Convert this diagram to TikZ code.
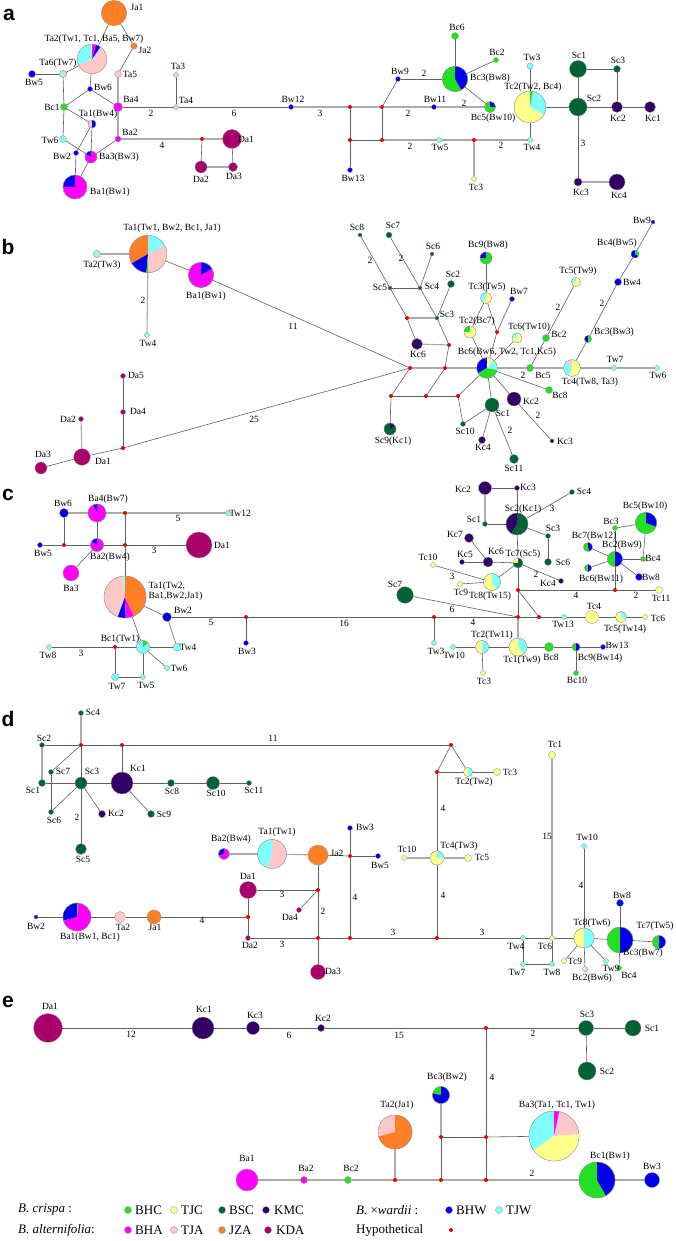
\documentclass[tikz,border=0pt]{standalone}
\usepackage{fontspec}
\setmainfont{Liberation Serif}
\newfontfamily\lsans{Liberation Sans}
\definecolor{BHC}{RGB}{34,225,34}
\definecolor{TJC}{RGB}{255,255,140}
\definecolor{BSC}{RGB}{0,100,50}
\definecolor{KMC}{RGB}{51,0,102}
\definecolor{BHA}{RGB}{255,0,255}
\definecolor{TJA}{RGB}{255,200,200}
\definecolor{JZA}{RGB}{255,127,39}
\definecolor{KDA}{RGB}{170,0,110}
\definecolor{BHW}{RGB}{0,0,235}
\definecolor{TJW}{RGB}{128,255,255}
\definecolor{HYP}{RGB}{230,0,0}
\pgfdeclarelayer{edges}
\pgfsetlayers{edges,main}
\newcounter{lbc}
\newcommand\lb[3]{\stepcounter{lbc}\node[lbl] (lb\number\value{lbc}) at (#1,#2) {#3};}
\newcommand\hn[5]{\node[hap,fill=#5,minimum size=2*#4pt] (#1) at (#2,#3) {};}
\newcommand\hy[3]{\node[hyp] (#1) at (#2,#3) {};}
\newcommand\pn[5]{%
  \node[hap,minimum size=2*#4pt] (#1) at (#2,#3) {};
  \gdef\pang{90}%
  \foreach \pcol/\pdeg in {#5}{%
    \pgfmathsetmacro\pend{\pang+\pdeg}%
    \fill[\pcol] (#2,#3) -- ++(\pang:#4pt) arc[start angle=\pang,end angle=\pend,radius=#4pt] -- cycle;
    \xdef\pang{\pend}%
  }%
  \draw[draw=black!45,line width=0.3pt] (#2,#3) circle[radius=#4pt];
}
\begin{document}
\begin{tikzpicture}[x=1pt,y=-1pt,
 hap/.style={circle,draw=black!45,line width=0.3pt,inner sep=0pt,outer sep=0pt},
 hyp/.style={circle,fill=HYP,inner sep=0pt,outer sep=0pt,minimum size=4pt},
 lbl/.style={font=\fontsize{9.5}{10.5}\selectfont,inner sep=0.5pt,align=center},
 leg/.style={font=\fontsize{13}{14}\selectfont,inner sep=0pt,anchor=west},
 plet/.style={font=\lsans\bfseries\fontsize{21}{21}\selectfont,inner sep=0pt},
 ln/.style={draw=black!62,line width=0.6pt},
 lg/.style={draw=black!33,line width=1.1pt}]
\useasboundingbox (0,0) rectangle (675,1241);
\begin{pgfonlayer}{edges}
\fill[white] (0,0) rectangle (675,1241);
\end{pgfonlayer}
% panel letters
\node[plet] (pa) at (9,15) {a};
\node[plet] (pb) at (8,247) {b};
\node[plet] (pc) at (8,495) {c};
\node[plet] (pd) at (8,719) {d};
\node[plet] (pe) at (8,1002) {e};
%================ panel a
\hn{aJa1}{114}{13}{12.7}{JZA}
\pn{aTa2}{92}{59}{14.7}{TJC/5,TJW/110,TJA/210,BHW/20,BHA/15}
\hn{aJa2}{134}{46}{3.2}{JZA}
\pn{aTa6}{63}{74}{3.5}{TJW/180,TJA/180}
\hn{aBw5}{32}{74}{3.5}{BHW}
\hn{aTa5}{118}{74}{3.5}{TJA}
\hn{aBw6}{90}{89}{2.5}{BHW}
\hn{aBa4}{118}{107}{4.5}{BHA}
\hn{aBc1}{64}{107}{3.5}{BHC}
\pn{aTa1}{92}{124}{4}{TJA/180,BHW/180}
\hn{aTw6}{63}{139}{3.5}{TJW}
\hn{aBa2}{118}{139}{3}{BHA}
\hn{aBw2}{76}{153}{2.5}{BHW}
\pn{aBa3}{91}{157}{6}{BHW/60,BHA/300}
\pn{aBa1}{75}{187}{12}{BHW/90,BHA/270}
\hn{aTa3}{176}{75}{2.5}{TJA}
\hn{aTa4}{176}{107}{2.5}{TJA}
\hn{aBw12}{291}{107}{2.5}{BHW}
\hy{ah0}{202}{139}
\hn{aDa1}{232}{139}{9.5}{KDA}
\hn{aDa2}{201}{167}{6}{KDA}
\hn{aDa3}{233}{167}{4.5}{KDA}
\hy{ah1}{350}{107}
\hy{ah2}{382}{107}
\hy{ah3}{350}{140}
\hy{ah4}{382}{140}
\hn{aBw13}{350}{170}{2.5}{BHW}
\hn{aBw9}{398}{79}{2.5}{BHW}
\hn{aBw11}{434}{107}{2.5}{BHW}
\pn{aBc3}{455}{79}{12.7}{BHC/210,BHW/150}
\hn{aBc6}{455}{36}{3.5}{BHC}
\hn{aBc2}{496}{60}{2.5}{BHC}
\pn{aBc5}{490}{107}{5.5}{BHC/270,BHW/90}
\pn{aTc2}{530}{107}{15.8}{TJC/240,TJW/110,BHC/10}
\hn{aTw3}{530}{66}{3}{TJW}
\hn{aTw4}{530}{140}{2.5}{TJW}
\hn{aTw5}{439}{140}{2.5}{TJW}
\hy{ah5}{474}{140}
\hn{aTc3}{474}{179}{2.5}{TJC}
\hn{aSc1}{578}{69}{8.5}{BSC}
\hn{aSc2}{578}{107}{9}{BSC}
\hn{aSc3}{617}{69}{3.5}{BSC}
\hn{aKc2}{617}{107}{5.5}{KMC}
\hn{aKc1}{650}{107}{5.5}{KMC}
\hn{aKc3}{578}{182}{4}{KMC}
\hn{aKc4}{617}{182}{8}{KMC}
\lb{137}{7}{Ja1}
\lb{94}{39}{Ta2(Tw1, Tc1, Ba5, Bw7)}
\lb{145}{50}{Ja2}
\lb{58}{63}{Ta6(Tw7)}
\lb{34}{82}{Bw5}
\lb{130}{74}{Ta5}
\lb{103}{87}{Bw6}
\lb{131}{99}{Ba4}
\lb{52}{107}{Bc1}
\lb{98}{114}{Ta1(Bw4)}
\lb{50}{140}{Tw6}
\lb{130}{132}{Ba2}
\lb{62}{156}{Bw2}
\lb{119}{157}{Ba3(Bw3)}
\lb{110}{192}{Ba1(Bw1)}
\lb{178}{66}{Ta3}
\lb{186}{100}{Ta4}
\lb{293}{99}{Bw12}
\lb{246}{139}{Da1}
\lb{201}{179}{Da2}
\lb{234}{176}{Da3}
\lb{151}{113}{2}
\lb{234}{113}{6}
\lb{320}{113}{3}
\lb{162}{145}{4}
\lb{353}{178}{Bw13}
\lb{400}{71}{Bw9}
\lb{435}{99}{Bw11}
\lb{490}{78}{Bc3(Bw8)}
\lb{457}{27}{Bc6}
\lb{497}{52}{Bc2}
\lb{493}{118}{Bc5(Bw10)}
\lb{533}{87}{Tc2(Tw2, Bc4)}
\lb{532}{57}{Tw3}
\lb{532}{147}{Tw4}
\lb{440}{147}{Tw5}
\lb{476}{187}{Tc3}
\lb{579}{55}{Sc1}
\lb{594}{98}{Sc2}
\lb{618}{60}{Sc3}
\lb{618}{118}{Kc2}
\lb{653}{118}{Kc1}
\lb{581}{192}{Kc3}
\lb{619}{195}{Kc4}
\lb{424}{73}{2}
\lb{408}{113}{2}
\lb{464}{103}{2}
\lb{410}{146}{2}
\lb{501}{145}{2}
\lb{583}{143}{3}
%================ panel b
\pn{bTa1}{148}{254}{18.7}{JZA/120,BHW/55,BHC/7,TJA/118,TJW/60}
\pn{bTa2}{97}{254}{3.5}{TJW/270,TJA/90}
\hn{bTw4}{147}{335}{2.5}{TJW}
\pn{bBa1}{201}{275}{12.7}{BHA/300,BHW/60}
\hn{bDa3}{41}{468}{6}{KDA}
\hn{bDa1}{82}{457}{8.3}{KDA}
\hn{bDa2}{81}{419}{2.5}{KDA}
\hy{bh0}{123}{448}
\hn{bDa4}{123}{412}{2.5}{KDA}
\hn{bDa5}{123}{376}{2.5}{KDA}
\hy{bhub}{410}{368}
\hy{bh1}{445}{368}
\hy{bh2}{407}{318}
\hy{bh3}{449}{345}
\hy{bh4}{391}{396}
\hy{bh5}{426}{396}
\hy{bh6}{458}{396}
\hy{bh7}{497}{332}
\pn{bBc6}{487}{368}{10.3}{KMC/10,BHW/110,BHC/140,TJW/65,TJC/35}
\pn{bTc2}{470}{332}{6}{BHC/90,TJC/270}
\pn{bTc3}{486}{298}{5.5}{TJW/150,TJC/210}
\pn{bBc9}{486}{258}{6}{BHW/90,BHC/270}
\hn{bBw7}{512}{299}{2.5}{BHW}
\pn{bTc6}{517}{338}{5}{TJW/90,TJC/270}
\hn{bBc2}{546}{338}{3.5}{BHC}
\pn{bTc5}{576}{282}{4.5}{TJW/100,TJC/260}
\hn{bBc5}{530}{368}{3.5}{BHC}
\pn{bTc4}{572}{368}{8.3}{TJA/40,TJW/120,TJC/200}
\hn{bTw7}{614}{368}{2.5}{TJW}
\hn{bTw6}{657}{368}{2.5}{TJW}
\pn{bBc3}{588}{339}{3.5}{BHW/180,BHC/180}
\hn{bBw4}{618}{282}{3.5}{BHW}
\pn{bBc4}{635}{254}{4}{BHW/240,BHC/120}
\hn{bBw9}{653}{222}{2}{BHW}
\hn{bBc8}{549}{390}{3.5}{BHC}
\hn{bKc2}{514}{399}{7}{KMC}
\hn{bKc3}{552}{441}{2}{KMC}
\hn{bSc1}{492}{405}{7}{BSC}
\hn{bSc10}{463}{424}{2.5}{BSC}
\hn{bKc4}{482}{440}{3.5}{KMC}
\hn{bSc11}{514}{459}{4.5}{BSC}
\pn{bSc9}{390}{429}{6}{BSC/300,KMC/60}
\hn{bKc6}{417}{344}{5.5}{KMC}
\hn{bSc3}{437}{318}{2}{BSC}
\hn{bSc2}{451}{284}{3.5}{BSC}
\hn{bSc4}{420}{288}{2}{BSC}
\hn{bSc5}{390}{288}{2}{BSC}
\hn{bSc6}{432}{254}{2}{BSC}
\hn{bSc8}{360}{235}{2}{BSC}
\hn{bSc7}{389}{235}{3}{BSC}
\lb{172}{228}{Ta1(Tw1, Bw2, Bc1, Ja1)}
\lb{102}{265}{Ta2(Tw3)}
\lb{148}{343}{Tw4}
\lb{143}{300}{2}
\lb{206}{296}{Ba1(Bw1)}
\lb{293}{326}{11}
\lb{254}{419}{25}
\lb{43}{454}{Da3}
\lb{103}{461}{Da1}
\lb{68}{419}{Da2}
\lb{138}{411}{Da4}
\lb{136}{375}{Da5}
\lb{507}{352}{Bc6(Bw6, Tw2, Tc1,Kc5)}
\lb{477}{321}{Tc2(Bc7)}
\lb{487}{287}{Tc3(Tw5)}
\lb{488}{245}{Bc9(Bw8)}
\lb{519}{291}{Bw7}
\lb{529}{327}{Tc6(Tw10)}
\lb{559}{334}{Bc2}
\lb{578}{271}{Tc5(Tw9)}
\lb{543}{375}{Bc5}
\lb{590}{382}{Tc4(Tw8, Ta3)}
\lb{615}{359}{Tw7}
\lb{658}{375}{Tw6}
\lb{614}{332}{Bc3(Bw3)}
\lb{632}{282}{Bw4}
\lb{617}{243}{Bc4(Bw5)}
\lb{642}{220}{Bw9}
\lb{560}{395}{Bc8}
\lb{531}{401}{Kc2}
\lb{565}{441}{Kc3}
\lb{503}{413}{Sc1}
\lb{465}{431}{Sc10}
\lb{483}{447}{Kc4}
\lb{514}{468}{Sc11}
\lb{393}{441}{Sc9(Kc1)}
\lb{418}{354}{Kc6}
\lb{447}{314}{Sc3}
\lb{453}{274}{Sc2}
\lb{432}{286}{Sc4}
\lb{380}{287}{Sc5}
\lb{433}{246}{Sc6}
\lb{357}{227}{Sc8}
\lb{393}{225}{Sc7}
\lb{558}{307}{2}
\lb{602}{303}{2}
\lb{523}{375}{2}
\lb{538}{415}{2}
\lb{510}{430}{2}
\lb{370}{260}{2}
\lb{401}{258}{2}
%================ panel c
\hn{cBw6}{64}{513}{4.5}{BHW}
\pn{cBa4}{97}{513}{9}{BHW/25,BHA/335}
\hy{ch1}{125}{513}
\hn{cTw12}{228}{513}{2.5}{TJW}
\hn{cBw5}{40}{545}{2.5}{BHW}
\hy{ch2}{64}{545}
\pn{cBa2}{97}{545}{6.5}{BHW/60,BHA/300}
\hy{ch3}{125}{545}
\hn{cDa1}{199}{545}{13}{KDA}
\hn{cBa3}{71}{573}{8}{BHA}
\pn{cTa1}{125}{597}{21}{TJW/8,TJA/152,BHW/22,BHA/23,JZA/155}
\hn{cBw2}{167}{617}{4.5}{BHW}
\hy{ch4}{246}{617}
\hn{cBw3}{246}{643}{2.5}{BHW}
\pn{cBc1}{143}{647}{6.5}{TJW/310,BHC/50}
\hn{cTw4}{177}{647}{4}{TJW}
\hn{cTw6}{167}{668}{2.5}{TJW}
\hy{ch5}{115}{647}
\hn{cTw8}{49}{647}{2.5}{TJW}
\hn{cTw7}{115}{677}{3.5}{TJW}
\hn{cTw5}{143}{677}{2.5}{TJW}
\hn{cKc2}{485}{488}{6.5}{KMC}
\hn{cKc3}{517}{488}{2.5}{KMC}
\hn{cSc4}{572}{492}{2.5}{BSC}
\hn{cSc1}{485}{524}{2.5}{BSC}
\pn{cSc2}{517}{524}{11}{KMC/150,BSC/210}
\hn{cSc3}{548}{536}{2.5}{BSC}
\hn{cSc6}{548}{562}{3.5}{BSC}
\hn{cKc7}{469}{538}{4.5}{KMC}
\hn{cKc5}{462}{562}{2.5}{KMC}
\hn{cKc6}{488}{562}{5}{KMC}
\pn{cTc7}{518}{563}{5}{TJC/90,BSC/270}
\hn{cKc4}{561}{581}{2.5}{KMC}
\hn{cTc10}{433}{565}{2.5}{TJC}
\hn{cTc9}{460}{584}{2.5}{TJC}
\pn{cTc8}{492}{582}{8.5}{TJC/210,TJW/150}
\hy{chA}{518}{590}
\hy{chB}{615}{590}
\hn{cTc11}{659}{590}{3.5}{TJC}
\hn{cSc7}{405}{595}{8.3}{BSC}
\hy{chub}{518}{617}
\hy{chC}{539}{617}
\hy{chD}{434}{617}
\hn{cTw3}{434}{643}{2.5}{TJW}
\hn{cTw13}{564}{617}{2.5}{TJW}
\hn{cTc4}{592}{617}{6.5}{TJC}
\pn{cTc5}{621}{617}{5.5}{TJC/240,TJW/120}
\hn{cTc6}{645}{617}{2.5}{TJC}
\pn{cTc2}{482}{647}{6.5}{TJC/180,TJW/180}
\hn{cTw10}{453}{647}{2.5}{TJW}
\hn{cTc3}{483}{673}{2.5}{TJC}
\pn{cTc1}{518}{647}{9}{TJC/220,TJW/140}
\hn{cBc8}{549}{647}{4.5}{BHC}
\pn{cBc9}{576}{647}{4}{BHC/180,BHW/180}
\hn{cBw13}{603}{647}{2.5}{BHW}
\hn{cBc10}{576}{673}{2.5}{BHC}
\hn{cBc3}{615}{528}{2.5}{BHC}
\pn{cBc5}{646}{523}{10.7}{BHC/250,BHW/110}
\pn{cBc7}{588}{547}{4.5}{BHC/200,BHW/160}
\pn{cBc2}{615}{559}{7.5}{BHC/180,BHW/180}
\hn{cBc4}{643}{559}{2.5}{BHC}
\pn{cBc6}{588}{568}{3.5}{BHC/180,BHW/180}
\hn{cBw8}{639}{577}{3.5}{BHW}
\lb{63}{503}{Bw6}
\lb{108}{499}{Ba4(Bw7)}
\lb{240}{513}{Tw12}
\lb{178}{518}{5}
\lb{43}{553}{Bw5}
\lb{110}{557}{Ba2(Bw4)}
\lb{222}{545}{Da1}
\lb{154}{550}{3}
\lb{71}{588}{Ba3}
\stepcounter{lbc}\node[lbl,anchor=west,align=left] (lb\number\value{lbc}) at (148,591) {Ta1(Tw2,\\Ba1,Bw2,Ja1)};
\lb{183}{610}{Bw2}
\lb{211}{622}{5}
\lb{247}{651}{Bw3}
\lb{120}{639}{Bc1(Tw1)}
\lb{188}{647}{Tw4}
\lb{179}{668}{Tw6}
\lb{48}{655}{Tw8}
\lb{81}{653}{3}
\lb{117}{686}{Tw7}
\lb{146}{685}{Tw5}
\lb{463}{489}{Kc2}
\lb{528}{487}{Kc3}
\lb{584}{491}{Sc4}
\lb{474}{519}{Sc1}
\lb{523}{509}{Sc2(Kc1)}
\lb{552}{508}{3}
\lb{553}{528}{Sc3}
\lb{563}{562}{Sc6}
\lb{455}{534}{Kc7}
\lb{465}{554}{Kc5}
\lb{496}{551}{Kc6}
\lb{523}{554}{Tc7(Sc5)}
\lb{548}{583}{Kc4}
\lb{536}{574}{2}
\lb{428}{557}{Tc10}
\lb{461}{592}{Tc9}
\lb{490}{596}{Tc8(Tw15)}
\lb{452}{576}{3}
\lb{661}{598}{Tc11}
\lb{576}{595}{4}
\lb{636}{595}{2}
\lb{395}{584}{Sc7}
\lb{452}{609}{6}
\lb{344}{623}{16}
\lb{473}{622}{4}
\lb{436}{651}{Tw3}
\lb{563}{624}{Tw13}
\lb{594}{606}{Tc4}
\lb{625}{629}{Tc5(Tw14)}
\lb{658}{618}{Tc6}
\lb{492}{635}{Tc2(Tw11)}
\lb{454}{655}{Tw10}
\lb{484}{681}{Tc3}
\lb{522}{660}{Tc1(Tw9)}
\lb{551}{657}{Bc8}
\lb{600}{658}{Bc9(Bw14)}
\lb{617}{645}{Bw13}
\lb{577}{680}{Bc10}
\lb{611}{521}{Bc3}
\lb{645}{506}{Bc5(Bw10)}
\lb{594}{536}{Bc7(Bw12)}
\lb{622}{545}{Bc2(Bw9)}
\lb{653}{558}{Bc4}
\lb{601}{579}{Bc6(Bw11)}
\lb{651}{577}{Bw8}
%================ panel d
\hn{dSc4}{81}{713}{2.5}{BSC}
\hn{dSc2}{42}{745}{2.5}{BSC}
\hy{dh1}{81}{745}
\hy{dh2}{122}{745}
\hy{dh3}{451}{745}
\hn{dSc7}{51}{772}{2.5}{BSC}
\hn{dSc3}{81}{783}{6}{BSC}
\hn{dSc1}{42}{783}{3.5}{BSC}
\hn{dKc1}{122}{783}{11}{KMC}
\hn{dSc8}{171}{783}{3.5}{BSC}
\hn{dSc10}{213}{783}{6.5}{BSC}
\hn{dSc11}{249}{783}{2.5}{BSC}
\hn{dSc6}{51}{812}{2.5}{BSC}
\hn{dKc2}{102}{814}{3.5}{KMC}
\hn{dSc9}{151}{814}{3.5}{BSC}
\hn{dSc5}{81}{849}{5.5}{BSC}
\hy{dh4}{437}{772}
\pn{dTc2}{468}{772}{4.5}{TJC/180,TJW/180}
\hn{dTc3}{497}{772}{3.5}{TJC}
\pn{dTc4}{437}{858}{7}{TJC/270,TJW/90}
\hn{dTc10}{404}{858}{2.5}{TJC}
\hn{dTc5}{468}{858}{3.5}{TJC}
\hy{dh5}{437}{938}
\hn{dBw3}{350}{828}{2.5}{BHW}
\hy{dh6}{350}{856}
\hn{dBw5}{378}{856}{2.5}{BHW}
\hn{dJa2}{318}{855}{10}{JZA}
\pn{dTa1}{272}{854}{14.5}{TJW/160,TJA/200}
\pn{dBa2}{224}{854}{5.5}{BHW/110,BHA/250}
\hy{dh8}{318}{890}
\hy{dh9}{318}{938}
\hn{dDa1}{248}{890}{8.5}{KDA}
\hn{dDa4}{299}{910}{2.5}{KDA}
\hy{dh10}{248}{917}
\hn{dJa1}{154}{917}{7}{JZA}
\hn{dTa2}{120}{917}{5.5}{TJA}
\pn{dBa1}{77}{917}{14}{BHW/105,BHA/250,BHC/5}
\hn{dBw2}{36}{917}{2}{BHW}
\hn{dDa2}{248}{938}{2.5}{KDA}
\hn{dDa3}{318}{972}{7.5}{KDA}
\hy{dh7}{350}{938}
\hn{dTw4}{523}{938}{2.5}{TJW}
\hn{dTc6}{552}{938}{2.5}{TJC}
\hn{dTc1}{552}{755}{3.5}{TJC}
\hn{dTw10}{584}{846}{2.5}{TJW}
\pn{dTc8}{584}{938}{10}{TJC/180,TJW/180}
\hn{dBw8}{620}{903}{3.5}{BHW}
\pn{dBc3}{620}{940}{13}{BHC/180,BHW/180}
\pn{dTc7}{659}{942}{6.5}{BHC/180,BHW/180}
\hn{dTw7}{523}{964}{2.5}{TJW}
\hn{dTw8}{552}{964}{2.5}{TJW}
\hn{dTc9}{564}{961}{2.5}{TJC}
\pn{dBc2}{585}{969}{2.5}{TJC/180,TJW/180}
\hn{dTw9}{606}{961}{2.5}{TJW}
\hn{dBc4}{619}{968}{2.5}{BHC}
\lb{93}{712}{Sc4}
\lb{44}{738}{Sc2}
\lb{273}{738}{11}
\lb{63}{771}{Sc7}
\lb{92}{771}{Sc3}
\lb{33}{790}{Sc1}
\lb{138}{768}{Kc1}
\lb{172}{791}{Sc8}
\lb{216}{793}{Sc10}
\lb{254}{790}{Sc11}
\lb{54}{820}{Sc6}
\lb{116}{813}{Kc2}
\lb{164}{814}{Sc9}
\lb{83}{859}{Sc5}
\lb{77}{817}{2}
\lb{474}{782}{Tc2(Tw2)}
\lb{510}{772}{Tc3}
\lb{443}{808}{4}
\lb{459}{846}{Tc4(Tw3)}
\lb{407}{849}{Tc10}
\lb{482}{857}{Tc5}
\lb{443}{895}{4}
\lb{365}{827}{Bw3}
\lb{380}{865}{Bw5}
\lb{337}{853}{Ja2}
\lb{355}{897}{4}
\lb{277}{832}{Ta1(Tw1)}
\lb{231}{839}{Ba2(Bw4)}
\lb{323}{911}{2}
\lb{248}{876}{Da1}
\lb{282}{894}{3}
\lb{290}{917}{Da4}
\lb{155}{927}{Ja1}
\lb{202}{920}{4}
\lb{123}{927}{Ta2}
\lb{90}{937}{Ba1(Bw1, Bc1)}
\lb{36}{926}{Bw2}
\lb{250}{945}{Da2}
\lb{282}{944}{3}
\lb{333}{971}{Da3}
\lb{393}{932}{3}
\lb{482}{932}{3}
\lb{555}{744}{Tc1}
\lb{547}{836}{15}
\lb{587}{837}{Tw10}
\lb{581}{885}{4}
\lb{592}{923}{Tc8(Tw6)}
\lb{622}{895}{Bw8}
\lb{655}{926}{Tc7(Tw5)}
\lb{643}{953}{Bc3(Bw7)}
\lb{516}{946}{Tw4}
\lb{545}{946}{Tc6}
\lb{517}{972}{Tw7}
\lb{552}{972}{Tw8}
\lb{575}{961}{Tc9}
\lb{592}{978}{Bc2(Bw6)}
\lb{611}{968}{Tw9}
\lb{629}{975}{Bc4}
%================ panel e
\hn{eDa1}{48}{1028}{14.3}{KDA}
\hn{eKc1}{203}{1028}{11}{KMC}
\hn{eKc3}{253}{1028}{6.5}{KMC}
\hn{eKc2}{321}{1028}{3.5}{KMC}
\hy{eh1}{486}{1028}
\hn{eSc3}{586}{1028}{7.5}{BSC}
\hn{eSc1}{633}{1028}{8}{BSC}
\hn{eSc2}{587}{1071}{9}{BSC}
\pn{eBc3}{441}{1095}{8.5}{BHC/80,BHW/280}
\pn{eTa2}{395}{1132}{17}{TJA/105,JZA/255}
\pn{eBa3}{554}{1136}{25}{TJW/125,TJC/150,TJA/73,BHA/12}
\hy{eh2}{441}{1137}
\hy{eh3}{486}{1137}
\hn{eBa1}{247}{1180}{11}{BHA}
\hn{eBa2}{304}{1180}{3.5}{BHA}
\hn{eBc2}{348}{1180}{3.5}{BHC}
\hy{eh4}{395}{1180}
\hy{eh5}{441}{1180}
\hy{eh6}{486}{1180}
\pn{eBc1}{597}{1180}{18}{BHC/210,BHW/150}
\hn{eBw3}{652}{1180}{7.5}{BHW}
\lb{50}{1006}{Da1}
\lb{131}{1034}{12}
\lb{204}{1009}{Kc1}
\lb{255}{1015}{Kc3}
\lb{289}{1035}{6}
\lb{323}{1018}{Kc2}
\lb{399}{1035}{15}
\lb{533}{1033}{2}
\lb{587}{1014}{Sc3}
\lb{652}{1028}{Sc1}
\lb{607}{1071}{Sc2}
\lb{492}{1077}{4}
\lb{447}{1077}{Bc3(Bw2)}
\lb{397}{1105}{Ta2(Ja1)}
\lb{557}{1105}{Ba3(Ta1, Tc1, Tw1)}
\lb{247}{1158}{Ba1}
\lb{306}{1168}{Ba2}
\lb{351}{1168}{Bc2}
\lb{532}{1173}{2}
\lb{610}{1156}{Bc1(Bw1)}
\lb{652}{1166}{Bw3}
%================ legend
\node[leg] (lgA) at (18,1210) {\textit{B. crispa} :};
\hn{lgBHC}{128}{1210}{3.5}{BHC}
\node[leg] (ltBHC) at (135,1210) {BHC};
\hn{lgTJC}{174}{1210}{3.5}{TJC}
\node[leg] (ltTJC) at (181,1210) {TJC};
\hn{lgBSC}{222}{1210}{3.5}{BSC}
\node[leg] (ltBSC) at (229,1210) {BSC};
\hn{lgKMC}{266}{1210}{3.5}{KMC}
\node[leg] (ltKMC) at (274,1210) {KMC};
\node[leg] (lgB) at (356,1210) {\textit{B.} ×\textit{wardii} :};
\hn{lgBHW}{449}{1210}{3.5}{BHW}
\node[leg] (ltBHW) at (456,1210) {BHW};
\hn{lgTJW}{499}{1210}{3.5}{TJW}
\node[leg] (ltTJW) at (506,1210) {TJW};
\node[leg] (lgC) at (18,1230) {\textit{B. alternifolia}:};
\hn{lgBHA}{128}{1230}{3.5}{BHA}
\node[leg] (ltBHA) at (135,1230) {BHA};
\hn{lgTJA}{174}{1230}{3.5}{TJA}
\node[leg] (ltTJA) at (181,1230) {TJA};
\hn{lgJZA}{222}{1230}{3.5}{JZA}
\node[leg] (ltJZA) at (229,1230) {JZA};
\hn{lgKDA}{268}{1230}{3.5}{KDA}
\node[leg] (ltKDA) at (276,1230) {KDA};
\node[leg] (lgD) at (356,1230) {Hypothetical};
\hy{lgHYP}{451}{1230}
%================ edges
\begin{pgfonlayer}{edges}
\foreach \p/\q in {aJa1/aTa2,aJa1/aJa2,aJa2/aTa5,aTa2/aTa6,aBw5/aTa6,aTa6/aBc1,aTa2/aBw6,aBw6/aBc1,aBw6/aBa4,aBc1/aTw6,aBc1/aTa1,aTa1/aBa3,aTa1/aBw2,aTw6/aBa3,aBa2/aBa3,aBw2/aBa1,aBa1/aBa3,aBa4/aTa4,aTa4/aTa3,aTa4/aBw12,ah0/aDa2,aDa1/aDa3,ah1/ah3,ah2/ah4,ah3/aBw13,ah3/ah4,ah2/aBw9,aBw9/aBc3,aBc3/aBc6,aBc3/aBc2,aBc3/aBc5,aTw4/aTc2,aTw3/aTc2,aTc2/aSc2,aSc1/aSc2,aSc1/aSc3,aSc3/aKc2,aSc2/aKc2,aKc2/aKc1,aSc2/aKc3}
  \draw[ln] (\p) -- (\q);
\foreach \p/\q in {aTa5/aBa4,aBa4/aBa2,aBa2/ah0,ah0/aDa1,aDa2/aDa3,aBw12/ah1,ah1/ah2,ah2/aBw11,aBw11/aBc5,ah4/aTw5,aTw5/ah5,ah5/aTw4,ah5/aTc3,aKc3/aKc4}
  \draw[lg] (\p) -- (\q);
\foreach \p/\q in {bTa1/bBa1,bBa1/bhub,bDa3/bDa1,bDa1/bh0,bh0/bhub,bh0/bDa4,bDa4/bDa5,bSc8/bSc5,bSc5/bh2,bh2/bKc6,bSc7/bSc4,bSc4/bSc3,bSc3/bh3,bh3/bh1,bSc5/bSc4,bSc4/bSc6,bSc3/bSc2,bhub/bh4,bh4/bSc9,bh4/bh5,bh5/bh6,bh5/bh1,bh6/bSc10,bh6/bBc6,bSc10/bSc1,bSc1/bBc6,bSc1/bKc4,bSc1/bSc11,bBc6/bKc2,bKc2/bKc3,bBc6/bBc8,bBc6/bTc2,bTc2/bTc3,bTc3/bh7,bh7/bBc6,bh7/bBw7,bTc3/bBc9,bTc6/bBc6,bBc5/bBc2,bBc2/bTc5,bTc4/bBc3,bBc3/bBw4,bBw4/bBc4,bBc4/bBw9}
  \draw[ln] (\p) -- (\q);
\foreach \p/\q in {bTa2/bTa1,bTa1/bTw4,bDa1/bDa2,bhub/bh1,bh1/bBc6,bh2/bSc3,bKc6/bh3,bBc6/bBc5,bBc5/bTc4,bTc4/bTw7,bTw7/bTw6}
  \draw[lg] (\p) -- (\q);
\foreach \p/\q in {cBw6/ch2,cBw5/ch2,ch2/cBa2,cBa2/ch3,ch3/cDa1,cBa4/cBa2,ch1/ch3,ch3/cTa1,cBa2/cBa3,cTa1/cBw2,cBw2/ch4,ch4/chD,chD/chub,ch4/cBw3,cBw2/cTw4,cTa1/cBc1,cBc1/cTw4,cBc1/cTw6,cTw8/ch5,ch5/cBc1,ch5/cTw7,cTw7/cTw5,cTw5/cBc1,cKc2/cKc3,cSc1/cSc2,cKc3/cSc2,cSc2/cSc4,cSc2/cSc3,cSc3/cSc6,cSc2/cTc7,cKc7/cKc6,cKc5/cKc6,cKc6/cTc7,cTc7/cKc4,cTc7/cTc8,cTc10/cTc8,cTc9/cTc8,cTc7/chA,chA/chB,chB/cTc11,chB/cBc2,chA/chub,chA/chC,cSc7/chub,chub/chC,chC/cTw13,cTw13/cTc4,cTc4/cTc5,cTc5/cTc6,chD/cTw3,cTw10/cTc2,cTc2/cTc1,cTc1/cBc8,cBc8/cBc9,cBc9/cBw13,cTc2/cTc3,cBc9/cBc10,cBc3/cBc5,cBc3/cBc2,cBc5/cBc4,cBc2/cBc4,cBc2/cBc7,cBc2/cBc6,cBc2/cBw8}
  \draw[ln] (\p) -- (\q);
\foreach \p/\q in {cBw6/cBa4,cBa4/ch1,ch1/cTw12,cKc2/cSc1,chub/cTc1}
  \draw[lg] (\p) -- (\q);
\foreach \p/\q in {dSc2/dh1,dh1/dh2,dh2/dh3,dh1/dSc7,dh1/dSc3,dSc1/dSc3,dSc3/dKc1,dKc1/dSc8,dSc8/dSc10,dSc10/dSc11,dSc7/dSc6,dSc3/dSc6,dSc3/dKc2,dSc3/dSc5,dh2/dKc1,dKc1/dSc9,dh3/dh4,dh3/dTc2,dh4/dTc2,dTc2/dTc3,dh4/dTc4,dTc4/dh5,dBw3/dh6,dJa2/dh6,dh6/dBw5,dh6/dh7,dJa2/dh8,dh8/dh9,dDa1/dh8,dh8/dDa4,dDa1/dh10,dBw2/dBa1,dBa1/dTa2,dTa2/dJa1,dJa1/dh10,dh10/dDa2,dDa2/dh9,dh9/dDa3,dh9/dh7,dh7/dh5,dh5/dTw4,dTw4/dTc6,dTc6/dTc8,dTc8/dBc3,dBc3/dTc7,dTw10/dTc8,dTw4/dTw7,dTw7/dTw8,dTw8/dTc6,dTc8/dTc9,dTc8/dBc2,dTc8/dTw9,dBc3/dBc4,dBw8/dBc3}
  \draw[ln] (\p) -- (\q);
\foreach \p/\q in {dSc4/dh1,dSc2/dSc1,dTc10/dTc4,dTc4/dTc5,dBa2/dTa1,dTa1/dJa2,dTc1/dTc6}
  \draw[lg] (\p) -- (\q);
\foreach \p/\q in {eDa1/eKc1,eKc1/eKc3,eKc3/eKc2,eKc2/eh1,eh1/eSc3,eSc3/eSc1,eSc3/eSc2,eh1/eh3,eh2/eh3,eh3/eBa3,eh2/eh5,eh3/eh6}
  \draw[ln] (\p) -- (\q);
\foreach \p/\q in {eBc3/eh2,eTa2/eh4,eBa1/eBa2,eBa2/eBc2,eBc2/eh4,eh4/eh5,eh5/eh6,eh6/eBc1,eBc1/eBw3}
  \draw[lg] (\p) -- (\q);
\end{pgfonlayer}
\end{tikzpicture}
\end{document}
